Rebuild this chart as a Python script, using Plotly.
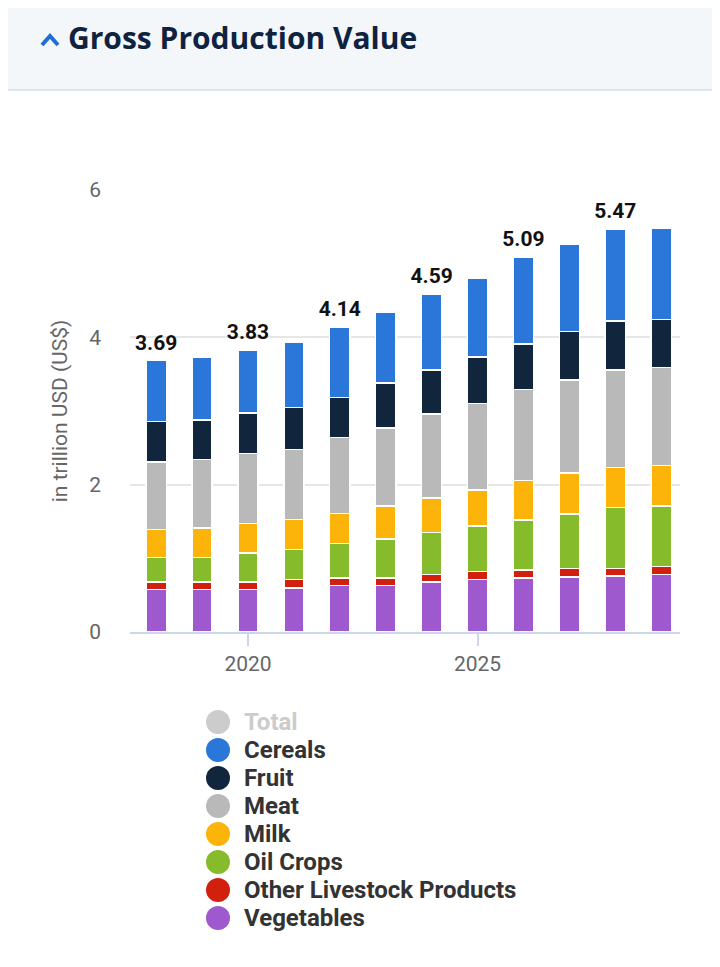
import plotly.graph_objects as go

# values (trillion USD)
years = [2018, 2019, 2020, 2021, 2022, 2023, 2024, 2025, 2026, 2027, 2028, 2029]
vegetables = [0.58, 0.58, 0.58, 0.60, 0.63, 0.63, 0.68, 0.71, 0.73, 0.75, 0.76, 0.78]
other_livestock = [0.10, 0.10, 0.10, 0.11, 0.10, 0.10, 0.10, 0.11, 0.11, 0.11, 0.10, 0.11]
oil_crops = [0.33, 0.33, 0.39, 0.41, 0.47, 0.53, 0.57, 0.62, 0.68, 0.74, 0.83, 0.82]
milk = [0.38, 0.40, 0.40, 0.41, 0.41, 0.45, 0.47, 0.49, 0.54, 0.56, 0.54, 0.55]
meat = [0.92, 0.93, 0.95, 0.95, 1.03, 1.06, 1.14, 1.17, 1.23, 1.26, 1.33, 1.33]
fruit = [0.55, 0.54, 0.55, 0.57, 0.54, 0.61, 0.60, 0.63, 0.62, 0.66, 0.66, 0.65]
cereals = [0.83, 0.85, 0.86, 0.88, 0.96, 0.96, 1.03, 1.07, 1.18, 1.18, 1.25, 1.24]
totals = [3.69, 3.73, 3.83, 3.93, 4.14, 4.34, 4.59, 4.80, 5.09, 5.26, 5.47, 5.48]
total_labels = ["3.69", "", "3.83", "", "4.14", "", "4.59", "", "5.09", "", "5.47", ""]

# stacking order bottom -> top
series = [
    ("Vegetables", vegetables, "#9f59cf"),
    ("Other Livestock Products", other_livestock, "#d2200f"),
    ("Oil Crops", oil_crops, "#86bb2b"),
    ("Milk", milk, "#fdb40a"),
    ("Meat", meat, "#b9b9b9"),
    ("Fruit", fruit, "#11263d"),
    ("Cereals", cereals, "#2a77d9"),
]

# the page body adds an 8px margin, so the figure is made 8px smaller
OFF = 8
W, H = 720 - OFF, 967 - OFF
ML, MR, MT, MB = 130 - OFF, 40, 190 - OFF, 335


def fx(px):
    # page pixel -> paper x
    return (px - OFF - ML) / (W - ML - MR)


def fy(py):
    # page pixel -> paper y
    return (H - MB - (py - OFF)) / (H - MT - MB)


fig = go.Figure()
for name, vals, col in series:
    fig.add_trace(go.Bar(x=years, y=vals, name=name, marker_color=col,
                         marker_line_color="white", marker_line_width=1.5,
                         showlegend=False))

fig.add_trace(go.Scatter(x=years, y=totals, mode="markers+text", text=total_labels,
                         textposition="top center", cliponaxis=False,
                         marker=dict(size=7, color="rgba(0,0,0,0)"),
                         textfont=dict(family="Roboto", size=21, color="#111111", weight="bold"),
                         showlegend=False, hoverinfo="skip"))

shapes = [
    # header band
    dict(type="rect", xref="paper", yref="paper", x0=fx(0), x1=fx(720), y0=fy(90), y1=fy(0),
         fillcolor="#f4f7fa", line_width=0, layer="below"),
    dict(type="line", xref="paper", yref="paper", x0=fx(0), x1=fx(720), y0=fy(90), y1=fy(90),
         line=dict(color="#dfe5ec", width=2)),
    # chevron
    dict(type="path", xref="paper", yref="paper",
         path="M %f,%f L %f,%f L %f,%f" % (fx(42), fy(45), fx(50), fy(36), fx(58), fy(45)),
         line=dict(color="#1e6fd3", width=4)),
]

annotations = [
    dict(text="<b>Gross Production Value</b>", xref="paper", yref="paper", x=fx(66), y=fy(38),
         xanchor="left", yanchor="middle", showarrow=False,
         font=dict(family="Open Sans", size=30, color="#0f2340")),
]

# legend drawn by hand so the round markers can be as large as the reference
legend_items = [("Total", "#cccccc", "#cccccc")] + [(n, c, "#333333") for n, _, c in reversed(series)]
for i, (name, col, tcol) in enumerate(legend_items):
    yc = 722 + i * 28
    shapes.append(dict(type="circle", xref="paper", yref="paper", xsizemode="pixel", ysizemode="pixel",
                       xanchor=fx(218), yanchor=fy(yc), x0=-12, x1=12, y0=-12, y1=12,
                       fillcolor=col, line_width=0))
    annotations.append(dict(text="<b>%s</b>" % name, xref="paper", yref="paper", x=fx(242), y=fy(yc),
                            xanchor="left", yanchor="middle", showarrow=False,
                            font=dict(family="Roboto", size=24, color=tcol)))

fig.update_layout(
    width=W, height=H,
    margin=dict(l=ML, r=MR, t=MT, b=MB),
    barmode="stack", bargap=0.56,
    paper_bgcolor="white", plot_bgcolor="white",
    shapes=shapes, annotations=annotations,
    showlegend=False,
    font=dict(family="Roboto", color="#666666"),
    xaxis=dict(range=[2017.43, 2029.41], tickvals=[2020, 2025], showgrid=False,
               showline=True, linecolor="#ccd6eb", linewidth=2,
               ticks="outside", ticklen=12, tickcolor="#ccd6eb", tickwidth=1.5,
               tickfont=dict(size=21, color="#666666")),
    yaxis=dict(range=[0, 6], tickvals=[0, 2, 4, 6], showgrid=True, gridcolor="#e6e6e6",
               gridwidth=1.5, zeroline=False, ticklabelstandoff=28,
               tickfont=dict(size=21, color="#666666"),
               title=dict(text="in trillion USD (US$)", font=dict(size=21, color="#666666"),
                          standoff=15)),
)

fig.write_html("out.html")
